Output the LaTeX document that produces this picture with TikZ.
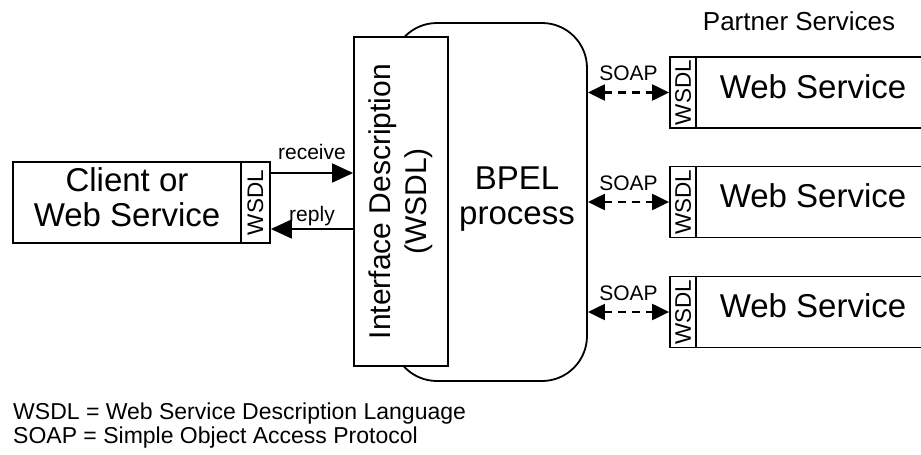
\documentclass[tikz,border=0pt]{standalone}
\usepackage{fontspec}
\setmainfont{Liberation Sans}
\usetikzlibrary{arrows.meta}
\tikzset{
    box/.style={draw, line width=1.8pt, fill=white, inner sep=0pt},
    strip/.style={box, minimum width=26pt, minimum height=71pt, font=\fontsize{22.5}{22.5}\selectfont},
    big/.style={font=\fontsize{33}{35}\selectfont},
    lbl/.style={font=\fontsize{21}{21}\selectfont, inner sep=0pt},
    call/.style={line width=1.8pt, -{Triangle[length=21pt, width=19pt]}},
    soap/.style={line width=2.2pt, dash pattern=on 8pt off 6pt,
        {Triangle[length=17pt, width=16pt]}-{Triangle[length=17pt, width=16pt]}}
}
\begin{document}
\begin{tikzpicture}[x=1pt, y=-1pt]
        \useasboundingbox (0,0) rectangle (921,455);
        \node[box, rounded corners=45pt, minimum width=195pt, minimum height=358pt] (bpel) at (489.5,202) {};
        \node[big, inner sep=0pt, align=center] (bpeltxt) at (517,199) {BPEL\\process};
        \node[box, minimum width=94pt, minimum height=329pt, font=\fontsize{30}{36}\selectfont] (iface) at (401,201.5)
            {\rotatebox{90}{\begin{tabular}{@{}c@{}}Interface Description\\(WSDL)\end{tabular}}};
        \node[box, big, minimum width=228pt, minimum height=81pt, align=center, text depth=10pt] (client) at (127,202.5) {Client or\\Web Service};
        \node[strip, minimum width=29pt, minimum height=81pt] (cwsdl) at (255.5,202.5) {\rotatebox{90}{WSDL}};
        \draw[call] ([yshift=29.5pt]cwsdl.east) -- node[lbl, anchor=base, yshift=14pt] (rcv) {receive} ([yshift=29.5pt]cwsdl.east -| iface.west);
        \draw[call] ([yshift=-26.5pt]cwsdl.east -| iface.west) -- node[lbl, anchor=base, yshift=8pt] (rpl) {reply} ([yshift=-26.5pt]cwsdl.east);
        \foreach \n/\y in {1/92.5, 2/202, 3/312} {
            \node[strip] (w\n) at (683,\y) {\rotatebox{90}{WSDL}};
            \node[box, big, minimum width=234pt, minimum height=71pt, text height=24pt, text depth=13pt] (ws\n) at (813,\y) {Web Service};
            \draw[soap] (bpel.east |- w\n) -- node[lbl, anchor=base, yshift=12pt] (soap\n) {SOAP} (w\n.west);
        }
        \node[lbl, font=\fontsize{26}{26}\selectfont, anchor=base] (partners) at (799,30) {Partner Services};
        \node[lbl, font=\fontsize{23}{23}\selectfont, anchor=base west] (keywsdl) at (13,419) {WSDL = Web Service Description Language};
        \node[lbl, font=\fontsize{23}{23}\selectfont, anchor=base west] (keysoap) at (13,443) {SOAP = Simple Object Access Protocol};
\end{tikzpicture}
\end{document}
